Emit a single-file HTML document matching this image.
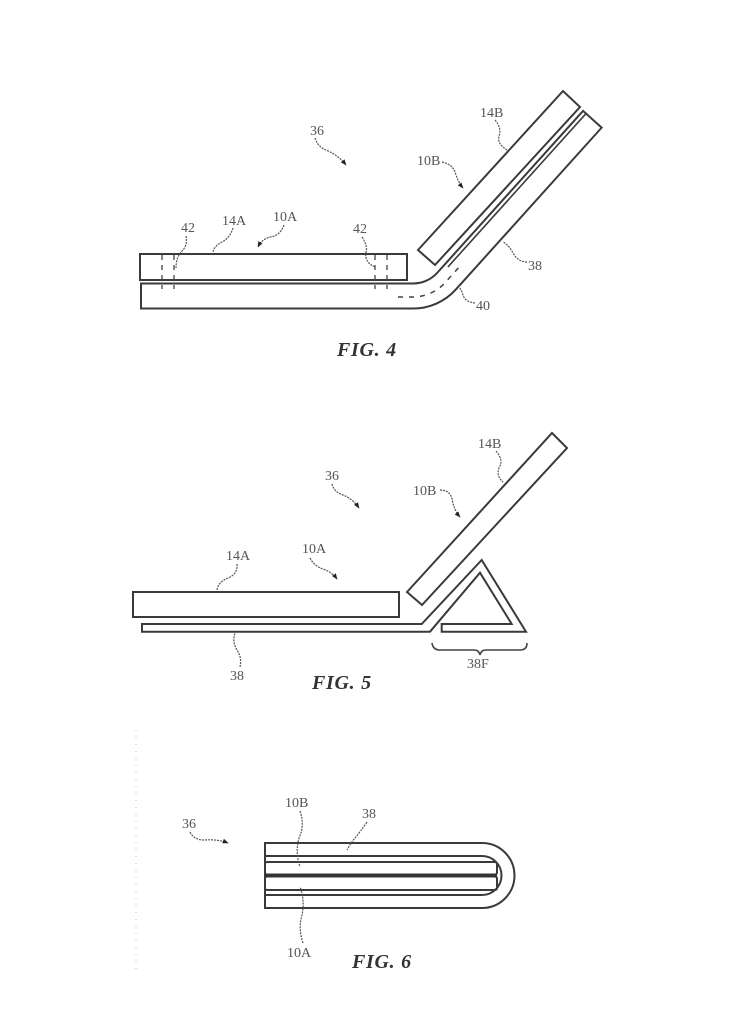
<!DOCTYPE html>
<html><head><meta charset="utf-8">
<style>
html,body{margin:0;padding:0;background:#fff;}
svg{display:block;}
.s{fill:none;stroke:#3a3a3a;stroke-width:2;}
.ld{fill:none;stroke:#555;stroke-width:1.2;stroke-dasharray:2 1;}
.t{font-family:"Liberation Serif",serif;font-size:14px;fill:#555;}
.f{font-family:"Liberation Serif",serif;font-size:20px;font-weight:bold;font-style:italic;fill:#333;letter-spacing:0.7px;}
</style></head>
<body>
<svg width="740" height="1024" viewBox="0 0 740 1024" xmlns="http://www.w3.org/2000/svg">
<defs>
<marker id="ah" viewBox="0 0 10 10" refX="9" refY="5" markerWidth="6" markerHeight="6" orient="auto" markerUnits="userSpaceOnUse">
<path d="M0,1 L10,5 L0,9 z" fill="#222"/></marker>
</defs>

<!-- ============ FIG 4 ============ -->
<!-- strip 38 -->
<path d="M140,296 H413.1 A45,45 0 0 0 446.6,281.1 L593,118.5" fill="none" stroke="#3a3a3a" stroke-width="27"/>
<path d="M142,296 H413.1 A45,45 0 0 0 446.6,281.1 L591.7,120" fill="none" stroke="#fff" stroke-width="23"/>
<line x1="586.7" y1="112.8" x2="447.9" y2="267" stroke="#3a3a3a" stroke-width="1.6"/>
<!-- 40 dashes -->
<path d="M398,297 H413.1 A45,45 0 0 0 446.6,281.1 L460,266" fill="none" stroke="#444" stroke-width="1.5" stroke-dasharray="5 6"/>
<!-- panel 14A -->
<rect x="140" y="254" width="267" height="26" class="s"/>
<line x1="162" y1="255" x2="162" y2="289" stroke="#444" stroke-width="1.3" stroke-dasharray="5 5"/>
<line x1="174" y1="255" x2="174" y2="289" stroke="#444" stroke-width="1.3" stroke-dasharray="5 5"/>
<line x1="375" y1="255" x2="375" y2="289" stroke="#444" stroke-width="1.3" stroke-dasharray="5 5"/>
<line x1="387" y1="255" x2="387" y2="289" stroke="#444" stroke-width="1.3" stroke-dasharray="5 5"/>
<!-- panel 14B -->
<polygon points="418,250 435,265 580,107 563,91" class="s"/>

<!-- labels fig 4 -->
<text class="t" x="310" y="135">36</text>
<path class="ld" d="M315,138 Q318,147 326,150 Q338,155 346,165" marker-end="url(#ah)"/>
<text class="t" x="480" y="117">14B</text>
<path class="ld" d="M495,120 Q502,128 499,136 Q497,144 507,150"/>
<text class="t" x="417" y="165">10B</text>
<path class="ld" d="M442,162 Q452,164 455,172 Q458,182 463,188" marker-end="url(#ah)"/>
<text class="t" x="181" y="232">42</text>
<path class="ld" d="M186,236 Q188,246 181,252 Q176,258 176,268"/>
<text class="t" x="222" y="225">14A</text>
<path class="ld" d="M233,228 Q230,238 222,242 Q214,246 213,252"/>
<text class="t" x="273" y="221">10A</text>
<path class="ld" d="M284,225 Q280,236 270,237 Q262,239 258,247" marker-end="url(#ah)"/>
<text class="t" x="353" y="233">42</text>
<path class="ld" d="M362,237 Q368,246 366,252 Q364,262 375,267"/>
<text class="t" x="528" y="270">38</text>
<path class="ld" d="M527,262 Q518,262 513,253 Q509,245 503,242"/>
<text class="t" x="476" y="310">40</text>
<path class="ld" d="M475,303 Q465,302 463,295 Q461,288 457,285"/>
<text class="f" x="337" y="356">FIG. 4</text>

<!-- ============ FIG 5 ============ -->
<rect x="133" y="592" width="266" height="25" class="s"/>
<polygon points="407,592 422,605 567,448 552,433" class="s"/>
<path class="s" d="M142,624 H421.7 L481.7,560 L526,631.7 H441.7 V624 H511.7 L480,572.7 L430,631.7 H142 Z"/>

<text class="t" x="478" y="448">14B</text>
<path class="ld" d="M496,451 Q504,460 499,468 Q496,476 503,482"/>
<text class="t" x="325" y="480">36</text>
<path class="ld" d="M332,484 Q334,492 343,495 Q353,499 359,508" marker-end="url(#ah)"/>
<text class="t" x="413" y="495">10B</text>
<path class="ld" d="M440,490 Q450,490 452,499 Q454,510 460,517" marker-end="url(#ah)"/>
<text class="t" x="226" y="560">14A</text>
<path class="ld" d="M237,564 Q238,574 228,578 Q218,582 217,590"/>
<text class="t" x="302" y="553">10A</text>
<path class="ld" d="M310,558 Q314,566 323,569 Q332,572 337,579" marker-end="url(#ah)"/>
<text class="t" x="230" y="680">38</text>
<path class="ld" d="M240,667 Q242,657 237,650 Q232,642 235,633"/>
<path d="M432,643 Q433,650 440,650 H474 Q479,650 480,655 Q481,650 486,650 H520 Q527,650 527,643" fill="none" stroke="#444" stroke-width="1.6"/>
<text class="t" x="467" y="668">38F</text>
<text class="f" x="312" y="689">FIG. 5</text>

<!-- ============ FIG 6 ============ -->
<line x1="136" y1="730" x2="136" y2="975" stroke="#bbb" stroke-width="1" stroke-dasharray="1 6"/>
<path class="s" d="M265,843 H482 A32.5,32.5 0 0 1 482,908 H265 Z"/>
<path class="s" d="M265,856 H482 A19.5,19.5 0 0 1 482,895 H265"/>
<rect x="265" y="862" width="232" height="12.5" rx="2" class="s"/>
<rect x="265" y="876.5" width="232" height="13.5" rx="2" class="s"/>
<line x1="265" y1="875.3" x2="497" y2="875.3" stroke="#333" stroke-width="2.5"/>

<text class="t" x="182" y="828">36</text>
<path class="ld" d="M190,832 Q194,840 204,840 Q218,839 228,843" marker-end="url(#ah)"/>
<text class="t" x="285" y="807">10B</text>
<path class="ld" d="M300,811 Q305,825 299,838 Q295,852 300,867"/>
<text class="t" x="362" y="818">38</text>
<path class="ld" d="M367,822 Q360,832 355,838 Q350,844 347,850"/>
<text class="t" x="287" y="957">10A</text>
<path class="ld" d="M303,943 Q298,928 302,915 Q305,900 300,887"/>
<text class="f" x="352" y="968">FIG. 6</text>
</svg>
</body></html>
